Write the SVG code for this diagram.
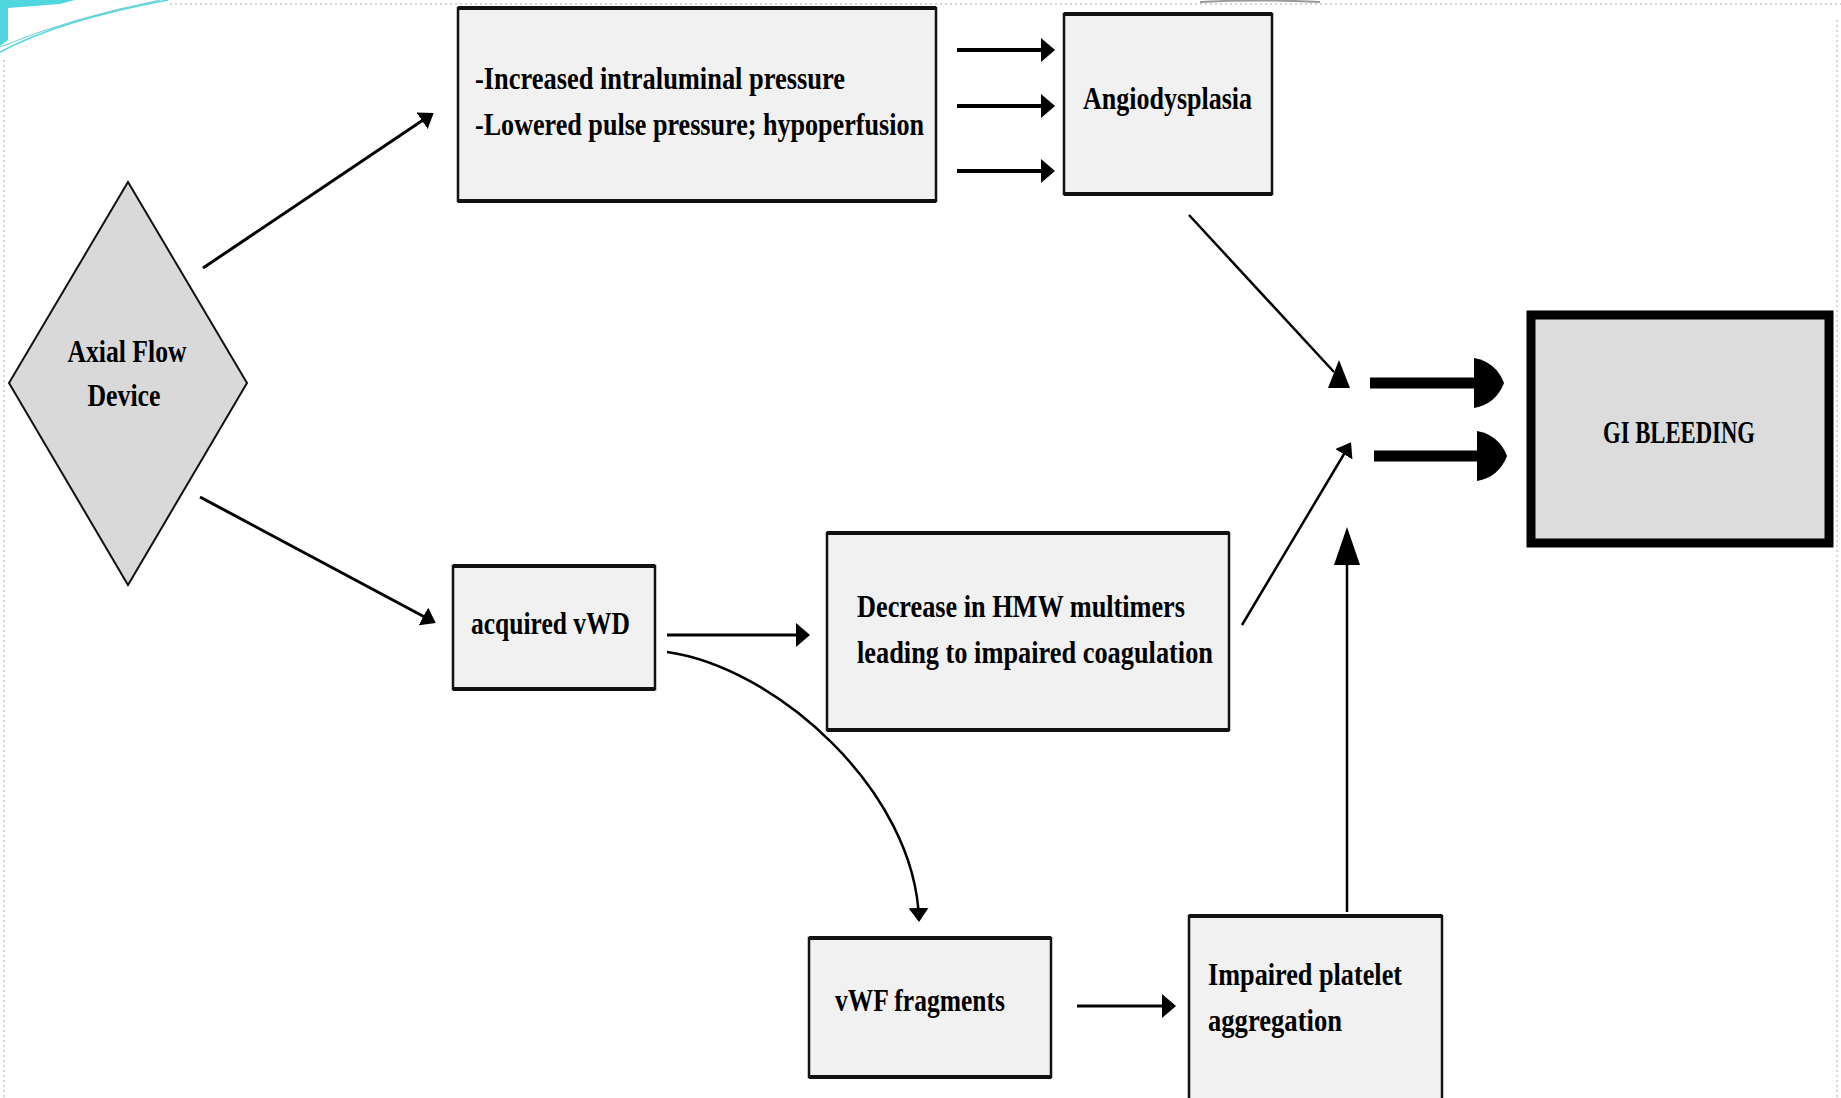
<svg xmlns="http://www.w3.org/2000/svg" width="1841" height="1098" viewBox="0 0 1841 1098">
<style>
.bg{fill:#ffffff}
.box{fill:#f1f1f1;stroke:#111;stroke-width:2.5}
.edge{stroke:#111;stroke-width:4}
.dia{fill:#d9d9d9;stroke:#111;stroke-width:2}
.gi{fill:#dcdcdc;stroke:#000;stroke-width:9}
.t{font-family:"Liberation Serif","DejaVu Serif",serif;font-weight:bold;font-size:32px;fill:#000}
.ln{stroke:#000;fill:none}
.deco{stroke:#c8c8c8;stroke-width:1.5;stroke-dasharray:2 3;fill:none}
</style>
<defs>
<marker id="ah" viewBox="0 0 14 24" refX="12" refY="12" markerWidth="14" markerHeight="24" markerUnits="userSpaceOnUse" orient="auto">
<path d="M0,0 L14,12 L0,24 Z" fill="#000"/>
</marker>
<marker id="ahs" viewBox="0 0 14 20" refX="12" refY="10" markerWidth="14" markerHeight="20" markerUnits="userSpaceOnUse" orient="auto">
<path d="M0,0 L14,10 L0,20 Z" fill="#000"/>
</marker>
</defs>
<rect class="bg" x="0" y="0" width="1841" height="1098"/>
<g id="decoration">
<path d="M0,0 H75 L60,4 L8,8 L8,40 L0,46 Z" fill="#4fd6de"/>
<path d="M0,52 Q60,20 168,0" stroke="#4fd6de" stroke-width="1.5" fill="none"/>
<path d="M0,47 Q70,18 160,0" stroke="#6fc8d0" stroke-width="1" fill="none"/>
<path d="M1200,2 Q1260,-1 1320,2" stroke="#9a9a9a" stroke-width="2" fill="none"/>
<line class="deco" x1="170" y1="4" x2="1841" y2="4"/>
<line class="deco" x1="4" y1="60" x2="4" y2="1098"/>
<line class="deco" x1="1837" y1="20" x2="1837" y2="1098"/>
</g>
<g id="connectors">
<line class="ln" x1="203" y1="268" x2="432" y2="114" stroke-width="3" marker-end="url(#ahs)"/>
<line class="ln" x1="200" y1="497" x2="434" y2="622" stroke-width="3" marker-end="url(#ahs)"/>
<line class="ln" x1="957" y1="50" x2="1053" y2="50" stroke-width="4" marker-end="url(#ah)"/>
<line class="ln" x1="957" y1="106" x2="1053" y2="106" stroke-width="4" marker-end="url(#ah)"/>
<line class="ln" x1="957" y1="171" x2="1053" y2="171" stroke-width="4" marker-end="url(#ah)"/>
<line class="ln" x1="667" y1="635" x2="808" y2="635" stroke-width="3" marker-end="url(#ah)"/>
<path class="ln" d="M667,652 C775,667 915,790 919,920" stroke-width="2.5" marker-end="url(#ahs)"/>
<line class="ln" x1="1077" y1="1006" x2="1174" y2="1006" stroke-width="3" marker-end="url(#ah)"/>
<line class="ln" x1="1189" y1="215" x2="1334" y2="372" stroke-width="2.5"/>
<path d="M1339,360 L1350,388 L1328,388 Z" fill="#000"/>
<line class="ln" x1="1242" y1="625" x2="1350" y2="444" stroke-width="2.5" marker-end="url(#ahs)"/>
<line class="ln" x1="1347" y1="912" x2="1347" y2="560" stroke-width="2.5"/>
<path d="M1347,527 L1360,565 L1334,565 Z" fill="#000"/>
<line class="ln" x1="1370" y1="383" x2="1480" y2="383" stroke-width="11"/>
<path d="M1474,358 Q1496,362 1504,383 Q1496,404 1474,408 Z" fill="#000"/>
<line class="ln" x1="1374" y1="456" x2="1483" y2="456" stroke-width="11"/>
<path d="M1477,431 Q1499,435 1507,456 Q1499,477 1477,481 Z" fill="#000"/>
</g>
<g id="node-device">
<polygon class="dia" points="128,182 247,383 128,585 9,383"/>
<text class="t" x="127" y="362" text-anchor="middle" textLength="119" lengthAdjust="spacingAndGlyphs">Axial Flow</text>
<text class="t" x="124" y="406" text-anchor="middle" textLength="73" lengthAdjust="spacingAndGlyphs">Device</text>
</g>
<g id="node-pressure">
<rect class="box" x="458" y="8" width="478" height="193"/>
<line class="edge" x1="458" y1="8" x2="936" y2="8"/>
<line class="edge" x1="458" y1="201" x2="936" y2="201"/>
<text class="t" x="475" y="89" textLength="370" lengthAdjust="spacingAndGlyphs">-Increased intraluminal pressure</text>
<text class="t" x="475" y="135" textLength="449" lengthAdjust="spacingAndGlyphs">-Lowered pulse pressure; hypoperfusion</text>
</g>
<g id="node-angio">
<rect class="box" x="1064" y="14" width="208" height="180"/>
<line class="edge" x1="1064" y1="14" x2="1272" y2="14"/>
<line class="edge" x1="1064" y1="194" x2="1272" y2="194"/>
<text class="t" x="1083" y="109" textLength="169" lengthAdjust="spacingAndGlyphs">Angiodysplasia</text>
</g>
<g id="node-vwd">
<rect class="box" x="453" y="566" width="202" height="123"/>
<line class="edge" x1="453" y1="566" x2="655" y2="566"/>
<line class="edge" x1="453" y1="689" x2="655" y2="689"/>
<text class="t" x="471" y="634" textLength="159" lengthAdjust="spacingAndGlyphs">acquired vWD</text>
</g>
<g id="node-hmw">
<rect class="box" x="827" y="533" width="402" height="197"/>
<line class="edge" x1="827" y1="533" x2="1229" y2="533"/>
<line class="edge" x1="827" y1="730" x2="1229" y2="730"/>
<text class="t" x="857" y="617" textLength="328" lengthAdjust="spacingAndGlyphs">Decrease in HMW multimers</text>
<text class="t" x="857" y="663" textLength="356" lengthAdjust="spacingAndGlyphs">leading to impaired coagulation</text>
</g>
<g id="node-vwf">
<rect class="box" x="809" y="938" width="242" height="139"/>
<line class="edge" x1="809" y1="938" x2="1051" y2="938"/>
<line class="edge" x1="809" y1="1077" x2="1051" y2="1077"/>
<text class="t" x="835" y="1011" textLength="170" lengthAdjust="spacingAndGlyphs">vWF fragments</text>
</g>
<g id="node-platelet">
<rect class="box" x="1189" y="916" width="253" height="184"/>
<line class="edge" x1="1189" y1="916" x2="1442" y2="916"/>
<text class="t" x="1208" y="985" textLength="194" lengthAdjust="spacingAndGlyphs">Impaired platelet</text>
<text class="t" x="1208" y="1031" textLength="134" lengthAdjust="spacingAndGlyphs">aggregation</text>
</g>
<g id="node-gi">
<rect class="gi" x="1531" y="315" width="298" height="228"/>
<text class="t" x="1679" y="443" text-anchor="middle" textLength="152" lengthAdjust="spacingAndGlyphs">GI BLEEDING</text>
</g>
</svg>
